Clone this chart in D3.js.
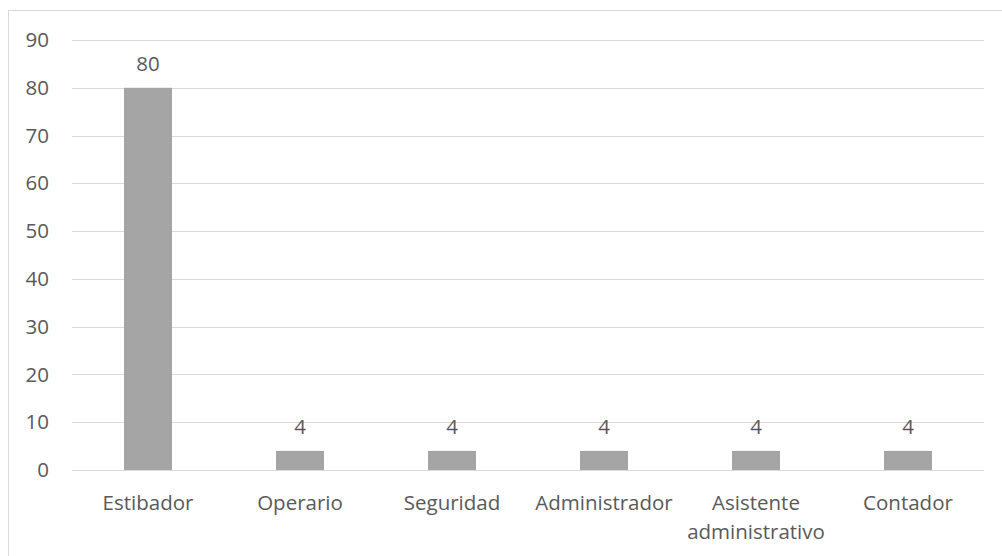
<!DOCTYPE html>
<html lang="es">
<head>
  <meta charset="utf-8">
  <title>Cargos</title>
  <script src="https://d3js.org/d3.v7.min.js"></script>
  <style>
    body { margin: 0; background: #fff; }
    text { font-family: "Open Sans", sans-serif; fill: #595959; }
  </style>
</head>
<body>
  <div id="chart"></div>
  <script>
    // data
    const categories = ["Estibador", "Operario", "Seguridad", "Administrador", "Asistente administrativo", "Contador"];
    const values = [80, 4, 4, 4, 4, 4];
    const yTicks = [0, 10, 20, 30, 40, 50, 60, 70, 80, 90];

    const width = 1002, height = 556;
    const margin = { top: 40, right: 18, bottom: 86, left: 72 };
    const fontSize = 20.5;

    const svg = d3.select("#chart").append("svg")
      .attr("width", width)
      .attr("height", height);

    // outer chart border
    svg.append("rect")
      .attr("x", 8.5).attr("y", 10.5)
      .attr("width", 1010).attr("height", 560)
      .attr("fill", "none")
      .attr("stroke", "#d9d9d9");

    const x = d3.scaleBand()
      .domain(categories)
      .range([margin.left, width - margin.right])
      .paddingInner(0.684)
      .paddingOuter(0.342);

    const y = d3.scaleLinear()
      .domain([0, 90])
      .range([height - margin.bottom, margin.top]);

    // gridlines
    svg.append("g")
      .selectAll("line")
      .data(yTicks)
      .join("line")
      .attr("x1", margin.left)
      .attr("x2", width - margin.right)
      .attr("y1", d => Math.round(y(d)) + 0.5)
      .attr("y2", d => Math.round(y(d)) + 0.5)
      .attr("stroke", "#d9d9d9")
      .attr("stroke-width", 1);

    // y axis labels
    const yAxis = svg.append("g")
      .attr("transform", `translate(${margin.left - 23},0)`)
      .call(d3.axisLeft(y).tickValues(yTicks).tickSize(0).tickPadding(0));
    yAxis.select(".domain").remove();
    yAxis.attr("font-size", fontSize).attr("font-family", null);
    yAxis.selectAll("text")
      .attr("font-size", fontSize)
      .attr("fill", "#595959");

    // bars
    svg.append("g")
      .selectAll("rect")
      .data(values)
      .join("rect")
      .attr("x", (d, i) => x(categories[i]))
      .attr("width", x.bandwidth())
      .attr("y", d => y(d))
      .attr("height", d => y(0) - y(d))
      .attr("fill", "#a5a5a5");

    // value labels
    svg.append("g")
      .selectAll("text")
      .data(values)
      .join("text")
      .attr("x", (d, i) => x(categories[i]) + x.bandwidth() / 2)
      .attr("y", d => y(d) - 17)
      .attr("text-anchor", "middle")
      .attr("font-size", fontSize)
      .text(d => d);

    // category labels (wrap long one)
    const catLabels = svg.append("g")
      .selectAll("text")
      .data(categories)
      .join("text")
      .attr("x", d => x(d) + x.bandwidth() / 2)
      .attr("y", y(0) + 40)
      .attr("text-anchor", "middle")
      .attr("font-size", fontSize);

    catLabels.each(function (d) {
      const t = d3.select(this);
      const words = d.split(" ");
      words.forEach((w, k) => {
        t.append("tspan")
          .attr("x", t.attr("x"))
          .attr("dy", k === 0 ? 0 : 29)
          .text(w);
      });
    });
  </script>
</body>
</html>
